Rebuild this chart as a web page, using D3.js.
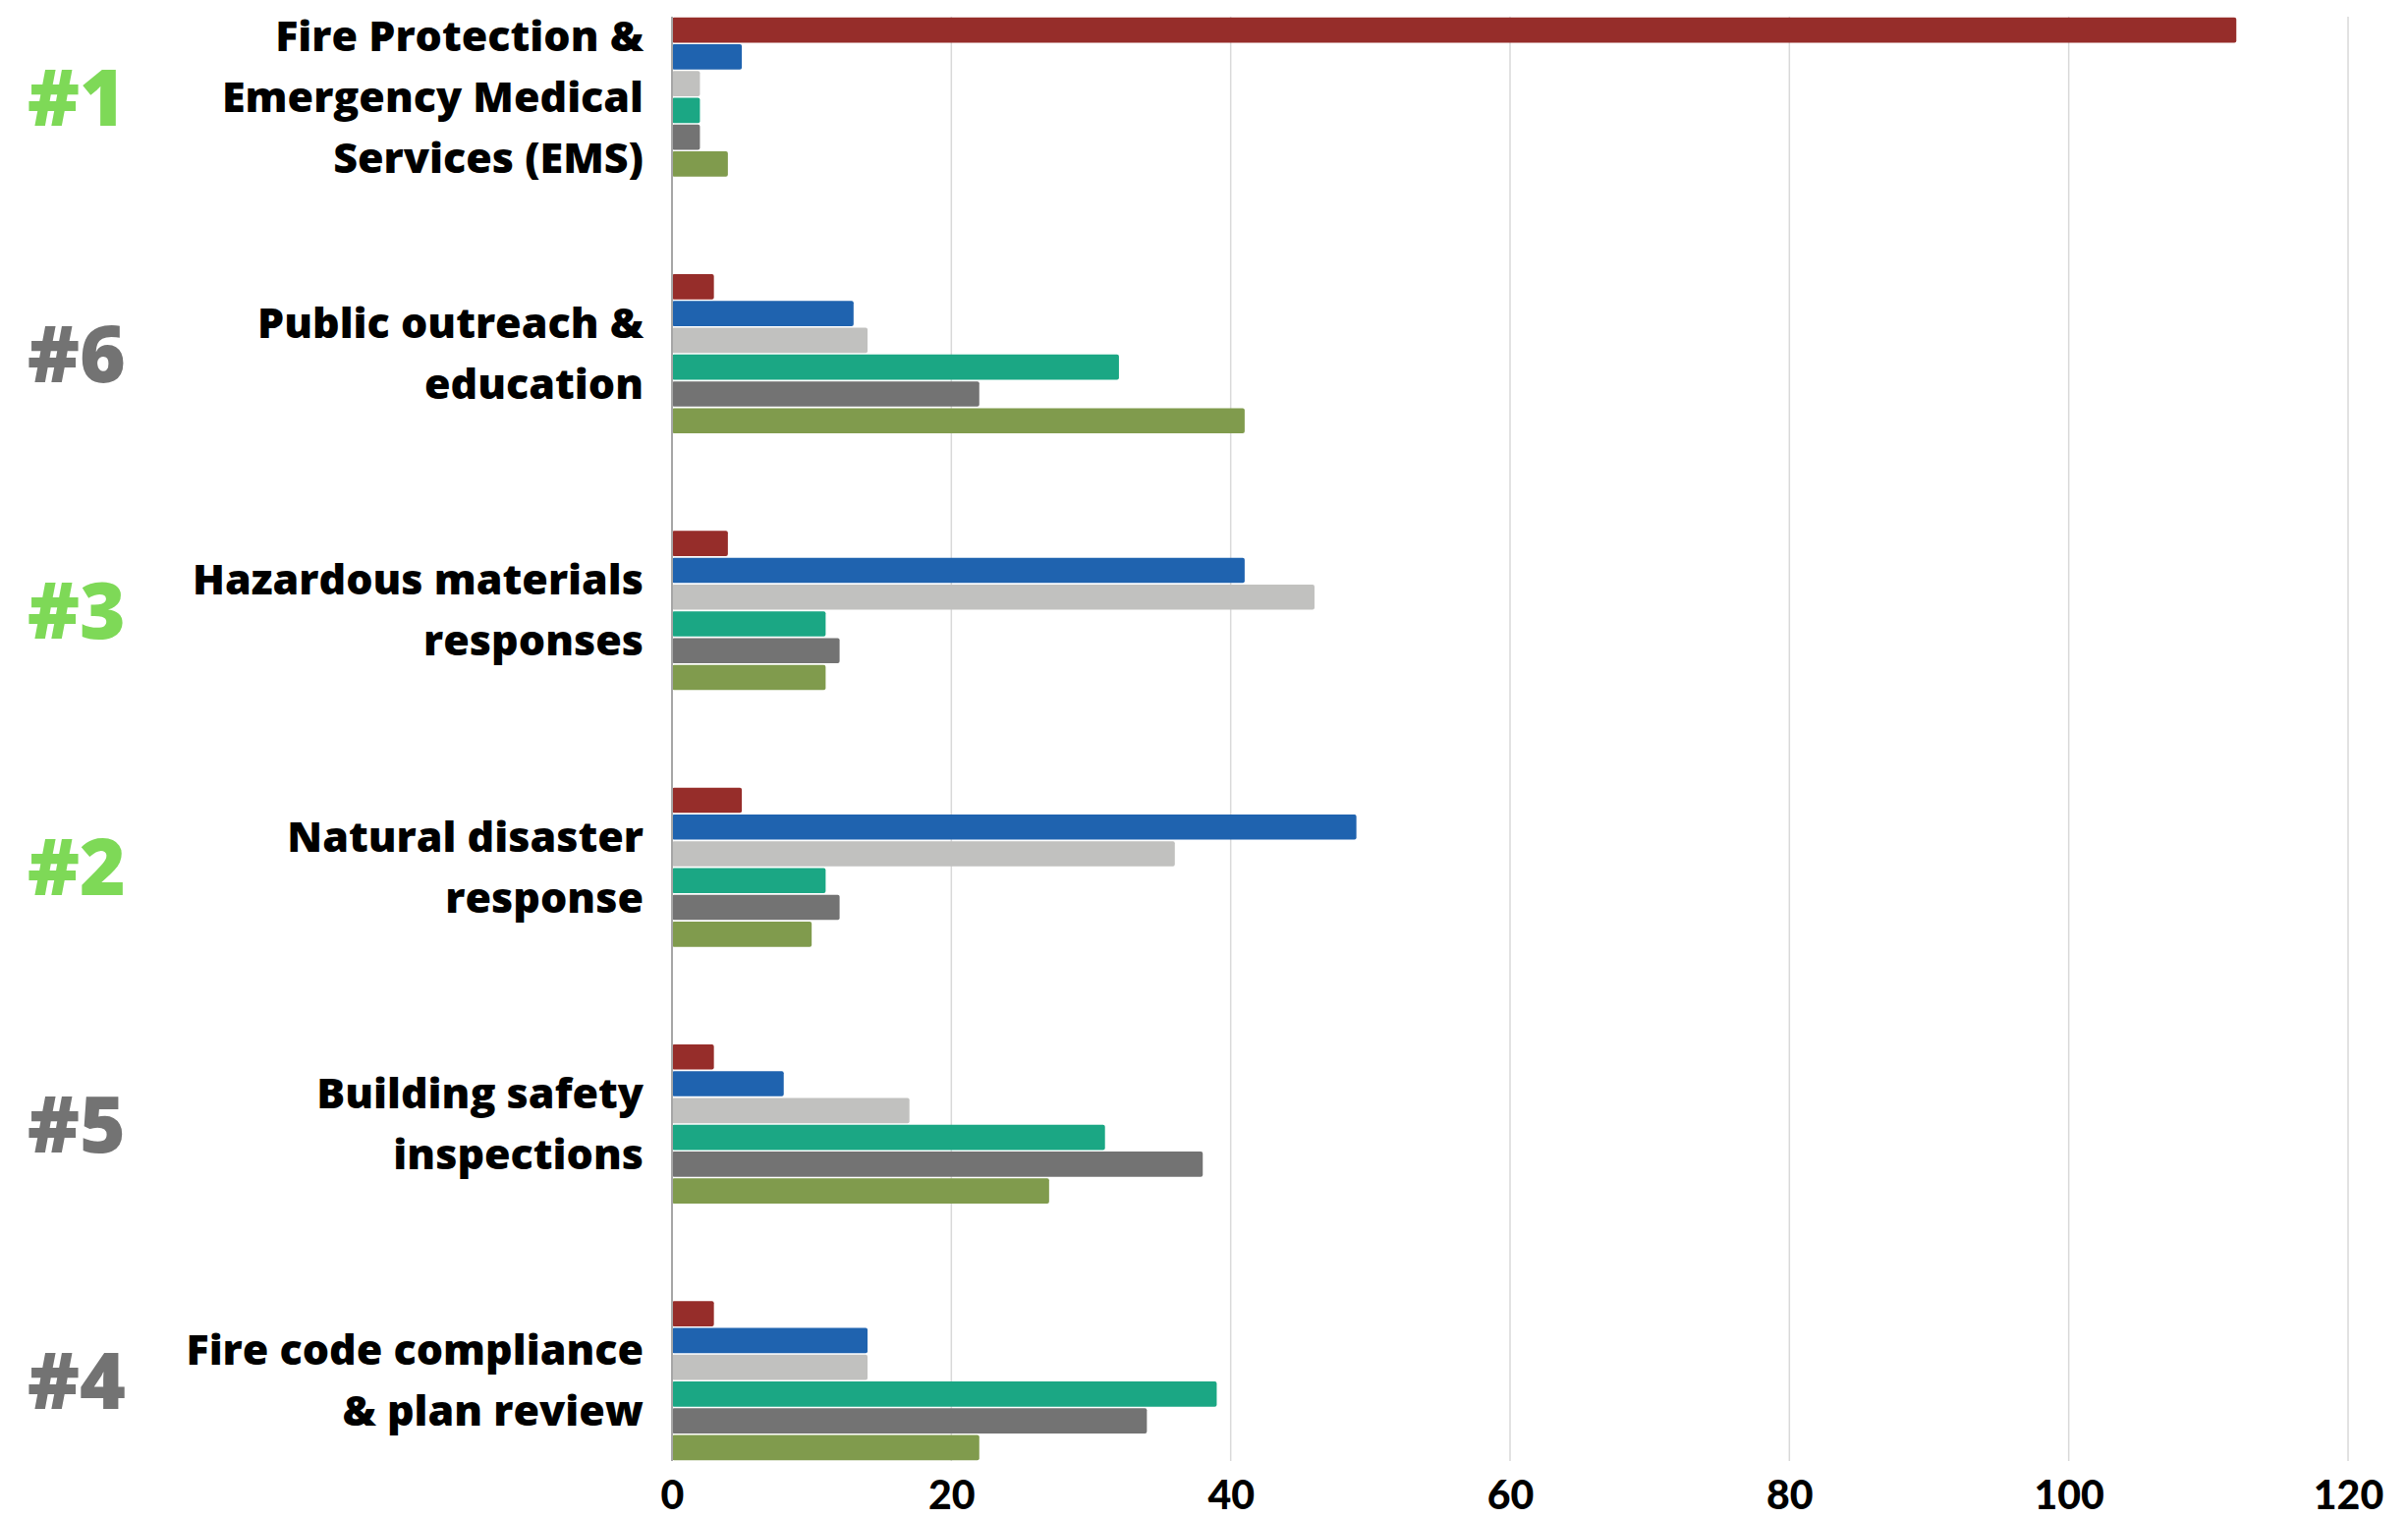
<!DOCTYPE html>
<html>
<head>
<meta charset="utf-8">
<script src="https://cdnjs.cloudflare.com/ajax/libs/d3/7.8.5/d3.min.js"></script>
<style>
  html, body { margin: 0; background: #fff; overflow: hidden; }
  svg { display: block; }
  text { font-family: "Open Sans", Lato, sans-serif; font-weight: 800; }
</style>
</head>
<body>
<svg id="chart"></svg>
<script>
// chart data
var categories = [
  ['Fire Protection &', 'Emergency Medical', 'Services (EMS)'],
  ['Public outreach &', 'education'],
  ['Hazardous materials', 'responses'],
  ['Natural disaster', 'response'],
  ['Building safety', 'inspections'],
  ['Fire code compliance', '& plan review']
];
var ranks = ['#1', '#6', '#3', '#2', '#5', '#4'];
var rankTop = [true, false, true, true, false, false];

var seriesNames = ['s1', 's2', 's3', 's4', 's5', 's6'];
var seriesColors = ['#962d2a', '#1f63af', '#c1c1bf', '#1ba784', '#737373', '#809b4d'];

// values per category, one per series (in order above)
var s1 = [112, 3, 4, 5, 3, 3];
var s2 = [5, 13, 41, 49, 8, 14];
var s3 = [2, 14, 46, 36, 17, 14];
var s4 = [2, 32, 11, 11, 31, 39];
var s5 = [2, 22, 12, 12, 38, 34];
var s6 = [4, 41, 11, 10, 27, 22];
var allSeries = [s1, s2, s3, s4, s5, s6];

var xTicks = [0, 20, 40, 60, 80, 100, 120];

var W = 2451, H = 1545;
var plotLeft = 684, plotRight = 2390, plotTop = 17, plotBottom = 1487;

var svg = d3.select('#chart').attr('width', W).attr('height', H);

var x = d3.scaleLinear().domain([0, 120]).range([plotLeft, plotRight]);
var y0 = d3.scaleBand()
    .domain(d3.range(categories.length))
    .range([plotTop, plotBottom])
    .paddingInner(0.374)
    .paddingOuter(0);
var y1 = d3.scaleBand()
    .domain(seriesNames)
    .range([0, y0.bandwidth()]);

// gridlines
svg.append('g')
  .selectAll('line')
  .data(xTicks.slice(1))
  .enter().append('line')
  .attr('x1', function(d){ return x(d); })
  .attr('x2', function(d){ return x(d); })
  .attr('y1', plotTop)
  .attr('y2', plotBottom)
  .attr('stroke', '#d9d9d9')
  .attr('stroke-width', 1.5);

// bars
var groups = svg.append('g')
  .selectAll('g')
  .data(categories)
  .enter().append('g')
  .attr('transform', function(d, i){ return 'translate(0,' + y0(i) + ')'; });

groups.selectAll('rect')
  .data(function(d, i){
    return allSeries.map(function(s, j){ return {key: seriesNames[j], value: s[i], color: seriesColors[j]}; });
  })
  .enter().append('rect')
  .attr('x', x(0))
  .attr('y', function(d){ return y1(d.key) + 0.8; })
  .attr('width', function(d){ return x(d.value) - x(0); })
  .attr('height', y1.bandwidth() - 1.6)
  .attr('rx', 2)
  .attr('fill', function(d){ return d.color; });

// zero axis line
svg.append('line')
  .attr('x1', x(0)).attr('x2', x(0))
  .attr('y1', plotTop).attr('y2', plotBottom)
  .attr('stroke', '#a6a6a6')
  .attr('stroke-width', 2);

// x tick labels
var xAxis = d3.axisBottom(x).tickValues(xTicks).tickSize(0).tickPadding(0);
var gx = svg.append('g')
  .attr('transform', 'translate(0,' + 1507 + ')')
  .call(xAxis);
gx.select('.domain').remove();
gx.selectAll('text')
  .attr('fill', '#000')
  .attr('dy', '0.71em')
  .style('font-size', '41px')
  .style('font-family', 'Lato, "Noto Sans", sans-serif')
  .style('font-weight', 900);

// category labels
var lineH = 62;
svg.append('g')
  .selectAll('text')
  .data(categories)
  .enter().append('text')
  .attr('text-anchor', 'end')
  .style('font-size', '43px')
  .attr('fill', '#000')
  .each(function(d, i){
    var cy = y0(i) + y0.bandwidth() / 2;
    var t = d3.select(this);
    d.forEach(function(line, k){
      t.append('tspan')
        .attr('x', 655)
        .attr('y', cy + (k - (d.length - 1) / 2) * lineH)
        .attr('dy', '0.35em')
        .text(line);
    });
  });

// rank labels
svg.append('g')
  .selectAll('text')
  .data(ranks)
  .enter().append('text')
  .attr('x', 78)
  .attr('y', function(d, i){ return y0(i) + y0.bandwidth() / 2; })
  .attr('dy', '0.36em')
  .attr('text-anchor', 'middle')
  .style('font-size', '80px')
  .style('font-weight', 800)
  .attr('fill', function(d, i){ return rankTop[i] ? '#7ed957' : '#737373'; })
  .text(function(d){ return d; });
</script>
</body>
</html>
